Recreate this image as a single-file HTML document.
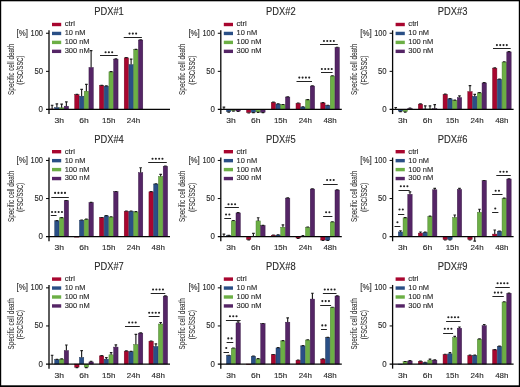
<!DOCTYPE html>
<html><head><meta charset="utf-8"><style>
html,body{margin:0;padding:0;background:#fff;}
body{width:520px;height:387px;overflow:hidden;}
svg{display:block;font-family:"Liberation Sans",sans-serif;}
svg{will-change:transform;filter:blur(0.3px);}
</style></head><body>
<svg width="520" height="387" viewBox="0 0 520 387">
<rect x="0" y="0" width="520" height="387" fill="#fff"/>
<g>
<text x="94.2" y="15" font-size="10.1" text-anchor="start" fill="#2a2a2a" textLength="29.6" lengthAdjust="spacingAndGlyphs" stroke="#2a2a2a" stroke-width="0.12">PDX#1</text>
<text transform="translate(13.55 69.25) rotate(-90)" font-size="8.4" text-anchor="middle" fill="#2a2a2a" stroke="#2a2a2a" stroke-width="0.06" textLength="51.3" lengthAdjust="spacingAndGlyphs">Specific cell death</text>
<text transform="translate(23.2 70.05) rotate(-90)" font-size="8.3" text-anchor="middle" fill="#2a2a2a" stroke="#2a2a2a" stroke-width="0.08" textLength="29.0" lengthAdjust="spacingAndGlyphs">(FSC/SSC)</text>
<text x="43" y="35.75" font-size="8.3" text-anchor="end" fill="#2a2a2a" textLength="12.4" lengthAdjust="spacingAndGlyphs" stroke="#2a2a2a" stroke-width="0.12">100</text>
<text x="43" y="73.85" font-size="8.3" text-anchor="end" fill="#2a2a2a" textLength="8.6" lengthAdjust="spacingAndGlyphs" stroke="#2a2a2a" stroke-width="0.12">50</text>
<text x="43" y="112.05" font-size="8.3" text-anchor="end" fill="#2a2a2a" textLength="4.4" lengthAdjust="spacingAndGlyphs" stroke="#2a2a2a" stroke-width="0.12">0</text>
<text x="16.6" y="35.75" font-size="8.3" text-anchor="start" fill="#2a2a2a" textLength="11.4" lengthAdjust="spacingAndGlyphs" stroke="#2a2a2a" stroke-width="0.12">[%]</text>
<rect x="52" y="22.8" width="9.2" height="3.4" fill="#a8062f"/>
<text x="64.7" y="26.4" font-size="7.1" text-anchor="start" fill="#2a2a2a" textLength="10.3" lengthAdjust="spacingAndGlyphs" stroke="#2a2a2a" stroke-width="0.12">ctrl</text>
<rect x="52" y="31.75" width="9.2" height="3.4" fill="#2a4f86"/>
<text x="64.7" y="35.35" font-size="7.1" text-anchor="start" fill="#2a2a2a" textLength="20.7" lengthAdjust="spacingAndGlyphs" stroke="#2a2a2a" stroke-width="0.12">10 nM</text>
<rect x="52" y="40.7" width="9.2" height="3.4" fill="#6caf45"/>
<text x="64.7" y="44.3" font-size="7.1" text-anchor="start" fill="#2a2a2a" textLength="24.9" lengthAdjust="spacingAndGlyphs" stroke="#2a2a2a" stroke-width="0.12">100 nM</text>
<rect x="52" y="49.65" width="9.2" height="3.4" fill="#552566"/>
<text x="64.7" y="53.25" font-size="7.1" text-anchor="start" fill="#2a2a2a" textLength="25.1" lengthAdjust="spacingAndGlyphs" stroke="#2a2a2a" stroke-width="0.12">300 nM</text>
<rect x="49.95" y="108.95" width="4.35" height="0.5" fill="#a8062f" stroke="#6a0a22" stroke-width="0.45"/>
<rect x="54.7" y="107.6" width="4.35" height="1.85" fill="#2a4f86" stroke="#1c3358" stroke-width="0.45"/>
<rect x="59.45" y="107.8" width="4.35" height="1.65" fill="#6caf45" stroke="#4a7a30" stroke-width="0.45"/>
<rect x="64.2" y="106.2" width="4.35" height="3.25" fill="#552566" stroke="#341640" stroke-width="0.45"/>
<rect x="74.7" y="94.6" width="4.35" height="14.85" fill="#a8062f" stroke="#6a0a22" stroke-width="0.45"/>
<rect x="79.45" y="96.2" width="4.35" height="13.25" fill="#2a4f86" stroke="#1c3358" stroke-width="0.45"/>
<rect x="84.2" y="91.2" width="4.35" height="18.25" fill="#6caf45" stroke="#4a7a30" stroke-width="0.45"/>
<rect x="88.95" y="67.5" width="4.35" height="41.95" fill="#552566" stroke="#341640" stroke-width="0.45"/>
<rect x="99.45" y="85.6" width="4.35" height="23.85" fill="#a8062f" stroke="#6a0a22" stroke-width="0.45"/>
<rect x="104.2" y="86.1" width="4.35" height="23.35" fill="#2a4f86" stroke="#1c3358" stroke-width="0.45"/>
<rect x="108.95" y="71.8" width="4.35" height="37.65" fill="#6caf45" stroke="#4a7a30" stroke-width="0.45"/>
<rect x="113.7" y="59.1" width="4.35" height="50.35" fill="#552566" stroke="#341640" stroke-width="0.45"/>
<rect x="124.2" y="57.8" width="4.35" height="51.65" fill="#a8062f" stroke="#6a0a22" stroke-width="0.45"/>
<rect x="128.95" y="64.6" width="4.35" height="44.85" fill="#2a4f86" stroke="#1c3358" stroke-width="0.45"/>
<rect x="133.7" y="49.6" width="4.35" height="59.85" fill="#6caf45" stroke="#4a7a30" stroke-width="0.45"/>
<rect x="138.45" y="40" width="4.35" height="69.45" fill="#552566" stroke="#341640" stroke-width="0.45"/>
<path d="M49 30.35V114.05" stroke="#050505" stroke-width="1.3" fill="none"/>
<path d="M46 109.45H170" stroke="#050505" stroke-width="1.2" fill="none"/>
<path d="M46 33.25H49" stroke="#050505" stroke-width="1" fill="none"/>
<path d="M46 71.35H49" stroke="#050505" stroke-width="1" fill="none"/>
<path d="M52.12 108.95V105.25 M50.83 105.25H53.42" stroke="#1e1e1e" stroke-width="1.15" fill="none"/>
<path d="M56.88 107.6V103.8 M55.58 103.8H58.17" stroke="#1e1e1e" stroke-width="1.15" fill="none"/>
<path d="M61.62 107.8V104.1 M60.33 104.1H62.92" stroke="#1e1e1e" stroke-width="1.15" fill="none"/>
<path d="M66.38 106.2V101.8 M65.08 101.8H67.67" stroke="#1e1e1e" stroke-width="1.15" fill="none"/>
<path d="M76.88 94.6V94.35 M75.58 94.35H78.17" stroke="#1e1e1e" stroke-width="1.15" fill="none"/>
<path d="M81.62 96.2V89.3 M80.33 89.3H82.92" stroke="#1e1e1e" stroke-width="1.15" fill="none"/>
<path d="M86.38 91.2V84.3 M85.08 84.3H87.67" stroke="#1e1e1e" stroke-width="1.15" fill="none"/>
<path d="M91.12 67.5V50.6 M89.83 50.6H92.42" stroke="#1e1e1e" stroke-width="1.15" fill="none"/>
<path d="M101.62 85.6V85.35 M100.33 85.35H102.92" stroke="#1e1e1e" stroke-width="1.15" fill="none"/>
<path d="M106.38 86.1V85.85 M105.08 85.85H107.67" stroke="#1e1e1e" stroke-width="1.15" fill="none"/>
<path d="M111.12 71.8V71.55 M109.83 71.55H112.42" stroke="#1e1e1e" stroke-width="1.15" fill="none"/>
<path d="M115.88 59.1V58.85 M114.58 58.85H117.17" stroke="#1e1e1e" stroke-width="1.15" fill="none"/>
<path d="M126.38 57.8V57.55 M125.08 57.55H127.67" stroke="#1e1e1e" stroke-width="1.15" fill="none"/>
<path d="M131.12 64.6V59.1 M129.82 59.1H132.43" stroke="#1e1e1e" stroke-width="1.15" fill="none"/>
<path d="M135.88 49.6V49.35 M134.57 49.35H137.18" stroke="#1e1e1e" stroke-width="1.15" fill="none"/>
<path d="M140.62 40V39.75 M139.32 39.75H141.93" stroke="#1e1e1e" stroke-width="1.15" fill="none"/>
<text x="59.25" y="123.15" font-size="8" text-anchor="middle" fill="#2a2a2a" textLength="9.5" lengthAdjust="spacingAndGlyphs" stroke="#2a2a2a" stroke-width="0.14">3h</text>
<text x="84" y="123.15" font-size="8" text-anchor="middle" fill="#2a2a2a" textLength="9.5" lengthAdjust="spacingAndGlyphs" stroke="#2a2a2a" stroke-width="0.14">6h</text>
<text x="108.75" y="123.15" font-size="8" text-anchor="middle" fill="#2a2a2a" textLength="13.3" lengthAdjust="spacingAndGlyphs" stroke="#2a2a2a" stroke-width="0.14">15h</text>
<text x="133.5" y="123.15" font-size="8" text-anchor="middle" fill="#2a2a2a" textLength="13.3" lengthAdjust="spacingAndGlyphs" stroke="#2a2a2a" stroke-width="0.14">24h</text>
<path d="M100 55.5H117.75" stroke="#222" stroke-width="1" fill="none"/>
<circle cx="105.58" cy="52.2" r="1.05" fill="#222"/>
<circle cx="108.88" cy="52.2" r="1.05" fill="#222"/>
<circle cx="112.17" cy="52.2" r="1.05" fill="#222"/>
<path d="M123.75 37.5H141.9" stroke="#222" stroke-width="1" fill="none"/>
<circle cx="129.52" cy="33.6" r="1.05" fill="#222"/>
<circle cx="132.82" cy="33.6" r="1.05" fill="#222"/>
<circle cx="136.12" cy="33.6" r="1.05" fill="#222"/>
</g>
<g>
<text x="266" y="15" font-size="10.1" text-anchor="start" fill="#2a2a2a" textLength="29.6" lengthAdjust="spacingAndGlyphs" stroke="#2a2a2a" stroke-width="0.12">PDX#2</text>
<text transform="translate(185.35 69.25) rotate(-90)" font-size="8.4" text-anchor="middle" fill="#2a2a2a" stroke="#2a2a2a" stroke-width="0.06" textLength="51.3" lengthAdjust="spacingAndGlyphs">Specific cell death</text>
<text transform="translate(195 70.05) rotate(-90)" font-size="8.3" text-anchor="middle" fill="#2a2a2a" stroke="#2a2a2a" stroke-width="0.08" textLength="29.0" lengthAdjust="spacingAndGlyphs">(FSC/SSC)</text>
<text x="214.8" y="35.75" font-size="8.3" text-anchor="end" fill="#2a2a2a" textLength="12.4" lengthAdjust="spacingAndGlyphs" stroke="#2a2a2a" stroke-width="0.12">100</text>
<text x="214.8" y="73.85" font-size="8.3" text-anchor="end" fill="#2a2a2a" textLength="8.6" lengthAdjust="spacingAndGlyphs" stroke="#2a2a2a" stroke-width="0.12">50</text>
<text x="214.8" y="112.05" font-size="8.3" text-anchor="end" fill="#2a2a2a" textLength="4.4" lengthAdjust="spacingAndGlyphs" stroke="#2a2a2a" stroke-width="0.12">0</text>
<text x="188.4" y="35.75" font-size="8.3" text-anchor="start" fill="#2a2a2a" textLength="11.4" lengthAdjust="spacingAndGlyphs" stroke="#2a2a2a" stroke-width="0.12">[%]</text>
<rect x="223.8" y="22.8" width="9.2" height="3.4" fill="#a8062f"/>
<text x="236.5" y="26.4" font-size="7.1" text-anchor="start" fill="#2a2a2a" textLength="10.3" lengthAdjust="spacingAndGlyphs" stroke="#2a2a2a" stroke-width="0.12">ctrl</text>
<rect x="223.8" y="31.75" width="9.2" height="3.4" fill="#2a4f86"/>
<text x="236.5" y="35.35" font-size="7.1" text-anchor="start" fill="#2a2a2a" textLength="20.7" lengthAdjust="spacingAndGlyphs" stroke="#2a2a2a" stroke-width="0.12">10 nM</text>
<rect x="223.8" y="40.7" width="9.2" height="3.4" fill="#6caf45"/>
<text x="236.5" y="44.3" font-size="7.1" text-anchor="start" fill="#2a2a2a" textLength="24.9" lengthAdjust="spacingAndGlyphs" stroke="#2a2a2a" stroke-width="0.12">100 nM</text>
<rect x="223.8" y="49.65" width="9.2" height="3.4" fill="#552566"/>
<text x="236.5" y="53.25" font-size="7.1" text-anchor="start" fill="#2a2a2a" textLength="25.1" lengthAdjust="spacingAndGlyphs" stroke="#2a2a2a" stroke-width="0.12">300 nM</text>
<rect x="226.5" y="109.45" width="4.35" height="2.2" fill="#2a4f86" stroke="#1c3358" stroke-width="0.45"/>
<rect x="231.25" y="109.45" width="4.35" height="1.3" fill="#6caf45" stroke="#4a7a30" stroke-width="0.45"/>
<rect x="236" y="109.45" width="4.35" height="1.6" fill="#552566" stroke="#341640" stroke-width="0.45"/>
<rect x="246.5" y="109.45" width="4.35" height="3.1" fill="#a8062f" stroke="#6a0a22" stroke-width="0.45"/>
<rect x="251.25" y="109.45" width="4.35" height="2.8" fill="#2a4f86" stroke="#1c3358" stroke-width="0.45"/>
<rect x="256" y="109.45" width="4.35" height="2.5" fill="#6caf45" stroke="#4a7a30" stroke-width="0.45"/>
<rect x="260.75" y="109.45" width="4.35" height="2.8" fill="#552566" stroke="#341640" stroke-width="0.45"/>
<rect x="271.25" y="102.4" width="4.35" height="7.05" fill="#a8062f" stroke="#6a0a22" stroke-width="0.45"/>
<rect x="276" y="104" width="4.35" height="5.45" fill="#2a4f86" stroke="#1c3358" stroke-width="0.45"/>
<rect x="280.75" y="104.7" width="4.35" height="4.75" fill="#6caf45" stroke="#4a7a30" stroke-width="0.45"/>
<rect x="285.5" y="97" width="4.35" height="12.45" fill="#552566" stroke="#341640" stroke-width="0.45"/>
<rect x="296" y="103.2" width="4.35" height="6.25" fill="#a8062f" stroke="#6a0a22" stroke-width="0.45"/>
<rect x="300.75" y="107" width="4.35" height="2.45" fill="#2a4f86" stroke="#1c3358" stroke-width="0.45"/>
<rect x="305.5" y="99.8" width="4.35" height="9.65" fill="#6caf45" stroke="#4a7a30" stroke-width="0.45"/>
<rect x="310.25" y="86" width="4.35" height="23.45" fill="#552566" stroke="#341640" stroke-width="0.45"/>
<rect x="320.75" y="102.9" width="4.35" height="6.55" fill="#a8062f" stroke="#6a0a22" stroke-width="0.45"/>
<rect x="325.5" y="105.5" width="4.35" height="3.95" fill="#2a4f86" stroke="#1c3358" stroke-width="0.45"/>
<rect x="330.25" y="76" width="4.35" height="33.45" fill="#6caf45" stroke="#4a7a30" stroke-width="0.45"/>
<rect x="335" y="47.5" width="4.35" height="61.95" fill="#552566" stroke="#341640" stroke-width="0.45"/>
<path d="M220.8 30.35V114.05" stroke="#050505" stroke-width="1.3" fill="none"/>
<path d="M217.8 109.45H341.8" stroke="#050505" stroke-width="1.2" fill="none"/>
<path d="M217.8 33.25H220.8" stroke="#050505" stroke-width="1" fill="none"/>
<path d="M217.8 71.35H220.8" stroke="#050505" stroke-width="1" fill="none"/>
<path d="M223.93 109.45V107.05 M222.62 107.05H225.23" stroke="#1e1e1e" stroke-width="1.15" fill="none"/>
<path d="M228.68 111.65V112.05 M227.38 112.05H229.98" stroke="#1e1e1e" stroke-width="1.15" fill="none"/>
<path d="M233.43 110.75V111.05 M232.12 111.05H234.73" stroke="#1e1e1e" stroke-width="1.15" fill="none"/>
<path d="M238.18 111.05V111.45 M236.88 111.45H239.48" stroke="#1e1e1e" stroke-width="1.15" fill="none"/>
<path d="M248.68 112.55V112.95 M247.38 112.95H249.98" stroke="#1e1e1e" stroke-width="1.15" fill="none"/>
<path d="M253.43 112.25V112.65 M252.12 112.65H254.73" stroke="#1e1e1e" stroke-width="1.15" fill="none"/>
<path d="M258.18 111.95V112.35 M256.88 112.35H259.48" stroke="#1e1e1e" stroke-width="1.15" fill="none"/>
<path d="M262.93 112.25V112.65 M261.62 112.65H264.23" stroke="#1e1e1e" stroke-width="1.15" fill="none"/>
<path d="M273.43 102.4V102.15 M272.12 102.15H274.73" stroke="#1e1e1e" stroke-width="1.15" fill="none"/>
<path d="M278.18 104V103.75 M276.88 103.75H279.48" stroke="#1e1e1e" stroke-width="1.15" fill="none"/>
<path d="M282.93 104.7V104.45 M281.62 104.45H284.23" stroke="#1e1e1e" stroke-width="1.15" fill="none"/>
<path d="M287.68 97V96.75 M286.38 96.75H288.98" stroke="#1e1e1e" stroke-width="1.15" fill="none"/>
<path d="M298.18 103.2V102.95 M296.88 102.95H299.48" stroke="#1e1e1e" stroke-width="1.15" fill="none"/>
<path d="M302.93 107V106.75 M301.62 106.75H304.23" stroke="#1e1e1e" stroke-width="1.15" fill="none"/>
<path d="M307.68 99.8V99.55 M306.38 99.55H308.98" stroke="#1e1e1e" stroke-width="1.15" fill="none"/>
<path d="M312.43 86V85.75 M311.12 85.75H313.73" stroke="#1e1e1e" stroke-width="1.15" fill="none"/>
<path d="M322.93 102.9V102.65 M321.62 102.65H324.23" stroke="#1e1e1e" stroke-width="1.15" fill="none"/>
<path d="M327.68 105.5V105.25 M326.38 105.25H328.98" stroke="#1e1e1e" stroke-width="1.15" fill="none"/>
<path d="M332.43 76V75.75 M331.12 75.75H333.73" stroke="#1e1e1e" stroke-width="1.15" fill="none"/>
<path d="M337.18 47.5V47.25 M335.88 47.25H338.48" stroke="#1e1e1e" stroke-width="1.15" fill="none"/>
<text x="231.05" y="123.15" font-size="8" text-anchor="middle" fill="#2a2a2a" textLength="9.5" lengthAdjust="spacingAndGlyphs" stroke="#2a2a2a" stroke-width="0.14">3h</text>
<text x="255.8" y="123.15" font-size="8" text-anchor="middle" fill="#2a2a2a" textLength="9.5" lengthAdjust="spacingAndGlyphs" stroke="#2a2a2a" stroke-width="0.14">6h</text>
<text x="280.55" y="123.15" font-size="8" text-anchor="middle" fill="#2a2a2a" textLength="13.3" lengthAdjust="spacingAndGlyphs" stroke="#2a2a2a" stroke-width="0.14">15h</text>
<text x="305.3" y="123.15" font-size="8" text-anchor="middle" fill="#2a2a2a" textLength="13.3" lengthAdjust="spacingAndGlyphs" stroke="#2a2a2a" stroke-width="0.14">24h</text>
<text x="330.05" y="123.15" font-size="8" text-anchor="middle" fill="#2a2a2a" textLength="13.3" lengthAdjust="spacingAndGlyphs" stroke="#2a2a2a" stroke-width="0.14">48h</text>
<path d="M296.5 81.5H312" stroke="#222" stroke-width="1" fill="none"/>
<circle cx="299.3" cy="77.6" r="1.05" fill="#222"/>
<circle cx="302.6" cy="77.6" r="1.05" fill="#222"/>
<circle cx="305.9" cy="77.6" r="1.05" fill="#222"/>
<circle cx="309.2" cy="77.6" r="1.05" fill="#222"/>
<path d="M321 72.5H332.6" stroke="#222" stroke-width="1" fill="none"/>
<circle cx="321.85" cy="69" r="1.05" fill="#222"/>
<circle cx="325.15" cy="69" r="1.05" fill="#222"/>
<circle cx="328.45" cy="69" r="1.05" fill="#222"/>
<circle cx="331.75" cy="69" r="1.05" fill="#222"/>
<path d="M320 44.5H337.8" stroke="#222" stroke-width="1" fill="none"/>
<circle cx="323.95" cy="41" r="1.05" fill="#222"/>
<circle cx="327.25" cy="41" r="1.05" fill="#222"/>
<circle cx="330.55" cy="41" r="1.05" fill="#222"/>
<circle cx="333.85" cy="41" r="1.05" fill="#222"/>
</g>
<g>
<text x="437.8" y="15" font-size="10.1" text-anchor="start" fill="#2a2a2a" textLength="29.6" lengthAdjust="spacingAndGlyphs" stroke="#2a2a2a" stroke-width="0.12">PDX#3</text>
<text transform="translate(357.15 69.25) rotate(-90)" font-size="8.4" text-anchor="middle" fill="#2a2a2a" stroke="#2a2a2a" stroke-width="0.06" textLength="51.3" lengthAdjust="spacingAndGlyphs">Specific cell death</text>
<text transform="translate(366.8 70.05) rotate(-90)" font-size="8.3" text-anchor="middle" fill="#2a2a2a" stroke="#2a2a2a" stroke-width="0.08" textLength="29.0" lengthAdjust="spacingAndGlyphs">(FSC/SSC)</text>
<text x="386.6" y="35.75" font-size="8.3" text-anchor="end" fill="#2a2a2a" textLength="12.4" lengthAdjust="spacingAndGlyphs" stroke="#2a2a2a" stroke-width="0.12">100</text>
<text x="386.6" y="73.85" font-size="8.3" text-anchor="end" fill="#2a2a2a" textLength="8.6" lengthAdjust="spacingAndGlyphs" stroke="#2a2a2a" stroke-width="0.12">50</text>
<text x="386.6" y="112.05" font-size="8.3" text-anchor="end" fill="#2a2a2a" textLength="4.4" lengthAdjust="spacingAndGlyphs" stroke="#2a2a2a" stroke-width="0.12">0</text>
<text x="360.2" y="35.75" font-size="8.3" text-anchor="start" fill="#2a2a2a" textLength="11.4" lengthAdjust="spacingAndGlyphs" stroke="#2a2a2a" stroke-width="0.12">[%]</text>
<rect x="395.6" y="22.8" width="9.2" height="3.4" fill="#a8062f"/>
<text x="408.3" y="26.4" font-size="7.1" text-anchor="start" fill="#2a2a2a" textLength="10.3" lengthAdjust="spacingAndGlyphs" stroke="#2a2a2a" stroke-width="0.12">ctrl</text>
<rect x="395.6" y="31.75" width="9.2" height="3.4" fill="#2a4f86"/>
<text x="408.3" y="35.35" font-size="7.1" text-anchor="start" fill="#2a2a2a" textLength="20.7" lengthAdjust="spacingAndGlyphs" stroke="#2a2a2a" stroke-width="0.12">10 nM</text>
<rect x="395.6" y="40.7" width="9.2" height="3.4" fill="#6caf45"/>
<text x="408.3" y="44.3" font-size="7.1" text-anchor="start" fill="#2a2a2a" textLength="24.9" lengthAdjust="spacingAndGlyphs" stroke="#2a2a2a" stroke-width="0.12">100 nM</text>
<rect x="395.6" y="49.65" width="9.2" height="3.4" fill="#552566"/>
<text x="408.3" y="53.25" font-size="7.1" text-anchor="start" fill="#2a2a2a" textLength="25.1" lengthAdjust="spacingAndGlyphs" stroke="#2a2a2a" stroke-width="0.12">300 nM</text>
<rect x="398.3" y="109.45" width="4.35" height="1.7" fill="#2a4f86" stroke="#1c3358" stroke-width="0.45"/>
<rect x="403.05" y="109.45" width="4.35" height="2.2" fill="#6caf45" stroke="#4a7a30" stroke-width="0.45"/>
<rect x="407.8" y="108.45" width="4.35" height="1" fill="#552566" stroke="#341640" stroke-width="0.45"/>
<rect x="418.3" y="104.1" width="4.35" height="5.35" fill="#a8062f" stroke="#6a0a22" stroke-width="0.45"/>
<rect x="423.05" y="108.95" width="4.35" height="0.5" fill="#2a4f86" stroke="#1c3358" stroke-width="0.45"/>
<rect x="427.8" y="108.95" width="4.35" height="0.5" fill="#6caf45" stroke="#4a7a30" stroke-width="0.45"/>
<rect x="432.55" y="108.65" width="4.35" height="0.8" fill="#552566" stroke="#341640" stroke-width="0.45"/>
<rect x="443.05" y="94.3" width="4.35" height="15.15" fill="#a8062f" stroke="#6a0a22" stroke-width="0.45"/>
<rect x="447.8" y="98.8" width="4.35" height="10.65" fill="#2a4f86" stroke="#1c3358" stroke-width="0.45"/>
<rect x="452.55" y="100.3" width="4.35" height="9.15" fill="#6caf45" stroke="#4a7a30" stroke-width="0.45"/>
<rect x="457.3" y="97.6" width="4.35" height="11.85" fill="#552566" stroke="#341640" stroke-width="0.45"/>
<rect x="467.8" y="91.6" width="4.35" height="17.85" fill="#a8062f" stroke="#6a0a22" stroke-width="0.45"/>
<rect x="472.55" y="96.4" width="4.35" height="13.05" fill="#2a4f86" stroke="#1c3358" stroke-width="0.45"/>
<rect x="477.3" y="92.8" width="4.35" height="16.65" fill="#6caf45" stroke="#4a7a30" stroke-width="0.45"/>
<rect x="482.05" y="82.9" width="4.35" height="26.55" fill="#552566" stroke="#341640" stroke-width="0.45"/>
<rect x="492.55" y="68.1" width="4.35" height="41.35" fill="#a8062f" stroke="#6a0a22" stroke-width="0.45"/>
<rect x="497.3" y="79.3" width="4.35" height="30.15" fill="#2a4f86" stroke="#1c3358" stroke-width="0.45"/>
<rect x="502.05" y="62" width="4.35" height="47.45" fill="#6caf45" stroke="#4a7a30" stroke-width="0.45"/>
<rect x="506.8" y="51.9" width="4.35" height="57.55" fill="#552566" stroke="#341640" stroke-width="0.45"/>
<path d="M392.6 30.35V114.05" stroke="#050505" stroke-width="1.3" fill="none"/>
<path d="M389.6 109.45H513.6" stroke="#050505" stroke-width="1.2" fill="none"/>
<path d="M389.6 33.25H392.6" stroke="#050505" stroke-width="1" fill="none"/>
<path d="M389.6 71.35H392.6" stroke="#050505" stroke-width="1" fill="none"/>
<path d="M395.73 109.45V107.45 M394.43 107.45H397.03" stroke="#1e1e1e" stroke-width="1.15" fill="none"/>
<path d="M400.48 111.15V111.55 M399.18 111.55H401.78" stroke="#1e1e1e" stroke-width="1.15" fill="none"/>
<path d="M405.23 111.65V112.05 M403.93 112.05H406.53" stroke="#1e1e1e" stroke-width="1.15" fill="none"/>
<path d="M409.98 108.45V107.95 M408.68 107.95H411.28" stroke="#1e1e1e" stroke-width="1.15" fill="none"/>
<path d="M420.48 104.1V103.85 M419.18 103.85H421.78" stroke="#1e1e1e" stroke-width="1.15" fill="none"/>
<path d="M425.23 108.95V105.85 M423.93 105.85H426.53" stroke="#1e1e1e" stroke-width="1.15" fill="none"/>
<path d="M429.98 108.95V105.85 M428.68 105.85H431.28" stroke="#1e1e1e" stroke-width="1.15" fill="none"/>
<path d="M434.73 108.65V104.65 M433.43 104.65H436.03" stroke="#1e1e1e" stroke-width="1.15" fill="none"/>
<path d="M445.23 94.3V94.05 M443.93 94.05H446.53" stroke="#1e1e1e" stroke-width="1.15" fill="none"/>
<path d="M449.98 98.8V98.55 M448.68 98.55H451.28" stroke="#1e1e1e" stroke-width="1.15" fill="none"/>
<path d="M454.73 100.3V100.05 M453.43 100.05H456.03" stroke="#1e1e1e" stroke-width="1.15" fill="none"/>
<path d="M459.48 97.6V95.8 M458.18 95.8H460.78" stroke="#1e1e1e" stroke-width="1.15" fill="none"/>
<path d="M469.98 91.6V85.6 M468.68 85.6H471.28" stroke="#1e1e1e" stroke-width="1.15" fill="none"/>
<path d="M474.73 96.4V94.3 M473.43 94.3H476.03" stroke="#1e1e1e" stroke-width="1.15" fill="none"/>
<path d="M479.48 92.8V92.55 M478.18 92.55H480.78" stroke="#1e1e1e" stroke-width="1.15" fill="none"/>
<path d="M484.23 82.9V82.65 M482.93 82.65H485.53" stroke="#1e1e1e" stroke-width="1.15" fill="none"/>
<path d="M494.73 68.1V67.85 M493.43 67.85H496.03" stroke="#1e1e1e" stroke-width="1.15" fill="none"/>
<path d="M499.48 79.3V79.05 M498.18 79.05H500.78" stroke="#1e1e1e" stroke-width="1.15" fill="none"/>
<path d="M504.23 62V61.75 M502.93 61.75H505.53" stroke="#1e1e1e" stroke-width="1.15" fill="none"/>
<path d="M508.98 51.9V51.65 M507.68 51.65H510.28" stroke="#1e1e1e" stroke-width="1.15" fill="none"/>
<text x="402.85" y="123.15" font-size="8" text-anchor="middle" fill="#2a2a2a" textLength="9.5" lengthAdjust="spacingAndGlyphs" stroke="#2a2a2a" stroke-width="0.14">3h</text>
<text x="427.6" y="123.15" font-size="8" text-anchor="middle" fill="#2a2a2a" textLength="9.5" lengthAdjust="spacingAndGlyphs" stroke="#2a2a2a" stroke-width="0.14">6h</text>
<text x="452.35" y="123.15" font-size="8" text-anchor="middle" fill="#2a2a2a" textLength="13.3" lengthAdjust="spacingAndGlyphs" stroke="#2a2a2a" stroke-width="0.14">15h</text>
<text x="477.1" y="123.15" font-size="8" text-anchor="middle" fill="#2a2a2a" textLength="13.3" lengthAdjust="spacingAndGlyphs" stroke="#2a2a2a" stroke-width="0.14">24h</text>
<text x="501.85" y="123.15" font-size="8" text-anchor="middle" fill="#2a2a2a" textLength="13.3" lengthAdjust="spacingAndGlyphs" stroke="#2a2a2a" stroke-width="0.14">48h</text>
<path d="M493 48.5H510.7" stroke="#222" stroke-width="1" fill="none"/>
<circle cx="496.9" cy="45.1" r="1.05" fill="#222"/>
<circle cx="500.2" cy="45.1" r="1.05" fill="#222"/>
<circle cx="503.5" cy="45.1" r="1.05" fill="#222"/>
<circle cx="506.8" cy="45.1" r="1.05" fill="#222"/>
</g>
<g>
<text x="94.2" y="142.95" font-size="10.1" text-anchor="start" fill="#2a2a2a" textLength="29.6" lengthAdjust="spacingAndGlyphs" stroke="#2a2a2a" stroke-width="0.12">PDX#4</text>
<text transform="translate(13.55 196.45) rotate(-90)" font-size="8.4" text-anchor="middle" fill="#2a2a2a" stroke="#2a2a2a" stroke-width="0.06" textLength="51.3" lengthAdjust="spacingAndGlyphs">Specific cell death</text>
<text transform="translate(23.2 197.25) rotate(-90)" font-size="8.3" text-anchor="middle" fill="#2a2a2a" stroke="#2a2a2a" stroke-width="0.08" textLength="29.0" lengthAdjust="spacingAndGlyphs">(FSC/SSC)</text>
<text x="43" y="162.95" font-size="8.3" text-anchor="end" fill="#2a2a2a" textLength="12.4" lengthAdjust="spacingAndGlyphs" stroke="#2a2a2a" stroke-width="0.12">100</text>
<text x="43" y="201.05" font-size="8.3" text-anchor="end" fill="#2a2a2a" textLength="8.6" lengthAdjust="spacingAndGlyphs" stroke="#2a2a2a" stroke-width="0.12">50</text>
<text x="43" y="239.25" font-size="8.3" text-anchor="end" fill="#2a2a2a" textLength="4.4" lengthAdjust="spacingAndGlyphs" stroke="#2a2a2a" stroke-width="0.12">0</text>
<text x="16.6" y="162.95" font-size="8.3" text-anchor="start" fill="#2a2a2a" textLength="11.4" lengthAdjust="spacingAndGlyphs" stroke="#2a2a2a" stroke-width="0.12">[%]</text>
<rect x="52" y="150" width="9.2" height="3.4" fill="#a8062f"/>
<text x="64.7" y="153.6" font-size="7.1" text-anchor="start" fill="#2a2a2a" textLength="10.3" lengthAdjust="spacingAndGlyphs" stroke="#2a2a2a" stroke-width="0.12">ctrl</text>
<rect x="52" y="158.95" width="9.2" height="3.4" fill="#2a4f86"/>
<text x="64.7" y="162.55" font-size="7.1" text-anchor="start" fill="#2a2a2a" textLength="20.7" lengthAdjust="spacingAndGlyphs" stroke="#2a2a2a" stroke-width="0.12">10 nM</text>
<rect x="52" y="167.9" width="9.2" height="3.4" fill="#6caf45"/>
<text x="64.7" y="171.5" font-size="7.1" text-anchor="start" fill="#2a2a2a" textLength="24.9" lengthAdjust="spacingAndGlyphs" stroke="#2a2a2a" stroke-width="0.12">100 nM</text>
<rect x="52" y="176.85" width="9.2" height="3.4" fill="#552566"/>
<text x="64.7" y="180.45" font-size="7.1" text-anchor="start" fill="#2a2a2a" textLength="25.1" lengthAdjust="spacingAndGlyphs" stroke="#2a2a2a" stroke-width="0.12">300 nM</text>
<rect x="54.7" y="220.8" width="4.35" height="15.85" fill="#2a4f86" stroke="#1c3358" stroke-width="0.45"/>
<rect x="59.45" y="217.8" width="4.35" height="18.85" fill="#6caf45" stroke="#4a7a30" stroke-width="0.45"/>
<rect x="64.2" y="200.7" width="4.35" height="35.95" fill="#552566" stroke="#341640" stroke-width="0.45"/>
<rect x="74.7" y="236.65" width="4.35" height="0.5" fill="#a8062f" stroke="#6a0a22" stroke-width="0.45"/>
<rect x="79.45" y="220.2" width="4.35" height="16.45" fill="#2a4f86" stroke="#1c3358" stroke-width="0.45"/>
<rect x="84.2" y="219.4" width="4.35" height="17.25" fill="#6caf45" stroke="#4a7a30" stroke-width="0.45"/>
<rect x="88.95" y="202.6" width="4.35" height="34.05" fill="#552566" stroke="#341640" stroke-width="0.45"/>
<rect x="99.45" y="217.7" width="4.35" height="18.95" fill="#a8062f" stroke="#6a0a22" stroke-width="0.45"/>
<rect x="104.2" y="215.8" width="4.35" height="20.85" fill="#2a4f86" stroke="#1c3358" stroke-width="0.45"/>
<rect x="108.95" y="217" width="4.35" height="19.65" fill="#6caf45" stroke="#4a7a30" stroke-width="0.45"/>
<rect x="113.7" y="191.7" width="4.35" height="44.95" fill="#552566" stroke="#341640" stroke-width="0.45"/>
<rect x="124.2" y="211.2" width="4.35" height="25.45" fill="#a8062f" stroke="#6a0a22" stroke-width="0.45"/>
<rect x="128.95" y="211.2" width="4.35" height="25.45" fill="#2a4f86" stroke="#1c3358" stroke-width="0.45"/>
<rect x="133.7" y="211.9" width="4.35" height="24.75" fill="#6caf45" stroke="#4a7a30" stroke-width="0.45"/>
<rect x="138.45" y="172.7" width="4.35" height="63.95" fill="#552566" stroke="#341640" stroke-width="0.45"/>
<rect x="148.95" y="191.8" width="4.35" height="44.85" fill="#a8062f" stroke="#6a0a22" stroke-width="0.45"/>
<rect x="153.7" y="184" width="4.35" height="52.65" fill="#2a4f86" stroke="#1c3358" stroke-width="0.45"/>
<rect x="158.45" y="176.5" width="4.35" height="60.15" fill="#6caf45" stroke="#4a7a30" stroke-width="0.45"/>
<rect x="163.2" y="166.2" width="4.35" height="70.45" fill="#552566" stroke="#341640" stroke-width="0.45"/>
<path d="M49 157.55V241.25" stroke="#050505" stroke-width="1.3" fill="none"/>
<path d="M46 236.65H170" stroke="#050505" stroke-width="1.2" fill="none"/>
<path d="M46 160.45H49" stroke="#050505" stroke-width="1" fill="none"/>
<path d="M46 198.55H49" stroke="#050505" stroke-width="1" fill="none"/>
<path d="M56.88 220.8V220.55 M55.58 220.55H58.17" stroke="#1e1e1e" stroke-width="1.15" fill="none"/>
<path d="M61.62 217.8V217.55 M60.33 217.55H62.92" stroke="#1e1e1e" stroke-width="1.15" fill="none"/>
<path d="M66.38 200.7V200.45 M65.08 200.45H67.67" stroke="#1e1e1e" stroke-width="1.15" fill="none"/>
<path d="M81.62 220.2V219.95 M80.33 219.95H82.92" stroke="#1e1e1e" stroke-width="1.15" fill="none"/>
<path d="M86.38 219.4V219.15 M85.08 219.15H87.67" stroke="#1e1e1e" stroke-width="1.15" fill="none"/>
<path d="M91.12 202.6V202.35 M89.83 202.35H92.42" stroke="#1e1e1e" stroke-width="1.15" fill="none"/>
<path d="M101.62 217.7V217.45 M100.33 217.45H102.92" stroke="#1e1e1e" stroke-width="1.15" fill="none"/>
<path d="M106.38 215.8V215.55 M105.08 215.55H107.67" stroke="#1e1e1e" stroke-width="1.15" fill="none"/>
<path d="M111.12 217V216.75 M109.83 216.75H112.42" stroke="#1e1e1e" stroke-width="1.15" fill="none"/>
<path d="M115.88 191.7V191.45 M114.58 191.45H117.17" stroke="#1e1e1e" stroke-width="1.15" fill="none"/>
<path d="M126.38 211.2V210.95 M125.08 210.95H127.67" stroke="#1e1e1e" stroke-width="1.15" fill="none"/>
<path d="M131.12 211.2V210.95 M129.82 210.95H132.43" stroke="#1e1e1e" stroke-width="1.15" fill="none"/>
<path d="M135.88 211.9V211.65 M134.57 211.65H137.18" stroke="#1e1e1e" stroke-width="1.15" fill="none"/>
<path d="M140.62 172.7V167.7 M139.32 167.7H141.93" stroke="#1e1e1e" stroke-width="1.15" fill="none"/>
<path d="M151.12 191.8V191.55 M149.82 191.55H152.43" stroke="#1e1e1e" stroke-width="1.15" fill="none"/>
<path d="M155.88 184V183.75 M154.57 183.75H157.18" stroke="#1e1e1e" stroke-width="1.15" fill="none"/>
<path d="M160.62 176.5V174.3 M159.32 174.3H161.93" stroke="#1e1e1e" stroke-width="1.15" fill="none"/>
<path d="M165.38 166.2V165.95 M164.07 165.95H166.68" stroke="#1e1e1e" stroke-width="1.15" fill="none"/>
<text x="59.25" y="250.35" font-size="8" text-anchor="middle" fill="#2a2a2a" textLength="9.5" lengthAdjust="spacingAndGlyphs" stroke="#2a2a2a" stroke-width="0.14">3h</text>
<text x="84" y="250.35" font-size="8" text-anchor="middle" fill="#2a2a2a" textLength="9.5" lengthAdjust="spacingAndGlyphs" stroke="#2a2a2a" stroke-width="0.14">6h</text>
<text x="108.75" y="250.35" font-size="8" text-anchor="middle" fill="#2a2a2a" textLength="13.3" lengthAdjust="spacingAndGlyphs" stroke="#2a2a2a" stroke-width="0.14">15h</text>
<text x="133.5" y="250.35" font-size="8" text-anchor="middle" fill="#2a2a2a" textLength="13.3" lengthAdjust="spacingAndGlyphs" stroke="#2a2a2a" stroke-width="0.14">24h</text>
<text x="158.25" y="250.35" font-size="8" text-anchor="middle" fill="#2a2a2a" textLength="13.3" lengthAdjust="spacingAndGlyphs" stroke="#2a2a2a" stroke-width="0.14">48h</text>
<path d="M51.3 197.5H68.8" stroke="#222" stroke-width="1" fill="none"/>
<circle cx="55.1" cy="192.9" r="1.05" fill="#222"/>
<circle cx="58.4" cy="192.9" r="1.05" fill="#222"/>
<circle cx="61.7" cy="192.9" r="1.05" fill="#222"/>
<circle cx="65" cy="192.9" r="1.05" fill="#222"/>
<path d="M50.8 215.5H56.6" stroke="#222" stroke-width="1" fill="none"/>
<circle cx="52.05" cy="212" r="1.05" fill="#222"/>
<circle cx="55.35" cy="212" r="1.05" fill="#222"/>
<circle cx="58.65" cy="212" r="1.05" fill="#222"/>
<circle cx="61.95" cy="212" r="1.05" fill="#222"/>
<path d="M148.2 162.5H166.8" stroke="#222" stroke-width="1" fill="none"/>
<circle cx="152.55" cy="158.7" r="1.05" fill="#222"/>
<circle cx="155.85" cy="158.7" r="1.05" fill="#222"/>
<circle cx="159.15" cy="158.7" r="1.05" fill="#222"/>
<circle cx="162.45" cy="158.7" r="1.05" fill="#222"/>
</g>
<g>
<text x="266" y="142.95" font-size="10.1" text-anchor="start" fill="#2a2a2a" textLength="29.6" lengthAdjust="spacingAndGlyphs" stroke="#2a2a2a" stroke-width="0.12">PDX#5</text>
<text transform="translate(185.35 196.45) rotate(-90)" font-size="8.4" text-anchor="middle" fill="#2a2a2a" stroke="#2a2a2a" stroke-width="0.06" textLength="51.3" lengthAdjust="spacingAndGlyphs">Specific cell death</text>
<text transform="translate(195 197.25) rotate(-90)" font-size="8.3" text-anchor="middle" fill="#2a2a2a" stroke="#2a2a2a" stroke-width="0.08" textLength="29.0" lengthAdjust="spacingAndGlyphs">(FSC/SSC)</text>
<text x="214.8" y="162.95" font-size="8.3" text-anchor="end" fill="#2a2a2a" textLength="12.4" lengthAdjust="spacingAndGlyphs" stroke="#2a2a2a" stroke-width="0.12">100</text>
<text x="214.8" y="201.05" font-size="8.3" text-anchor="end" fill="#2a2a2a" textLength="8.6" lengthAdjust="spacingAndGlyphs" stroke="#2a2a2a" stroke-width="0.12">50</text>
<text x="214.8" y="239.25" font-size="8.3" text-anchor="end" fill="#2a2a2a" textLength="4.4" lengthAdjust="spacingAndGlyphs" stroke="#2a2a2a" stroke-width="0.12">0</text>
<text x="188.4" y="162.95" font-size="8.3" text-anchor="start" fill="#2a2a2a" textLength="11.4" lengthAdjust="spacingAndGlyphs" stroke="#2a2a2a" stroke-width="0.12">[%]</text>
<rect x="223.8" y="150" width="9.2" height="3.4" fill="#a8062f"/>
<text x="236.5" y="153.6" font-size="7.1" text-anchor="start" fill="#2a2a2a" textLength="10.3" lengthAdjust="spacingAndGlyphs" stroke="#2a2a2a" stroke-width="0.12">ctrl</text>
<rect x="223.8" y="158.95" width="9.2" height="3.4" fill="#2a4f86"/>
<text x="236.5" y="162.55" font-size="7.1" text-anchor="start" fill="#2a2a2a" textLength="20.7" lengthAdjust="spacingAndGlyphs" stroke="#2a2a2a" stroke-width="0.12">10 nM</text>
<rect x="223.8" y="167.9" width="9.2" height="3.4" fill="#6caf45"/>
<text x="236.5" y="171.5" font-size="7.1" text-anchor="start" fill="#2a2a2a" textLength="24.9" lengthAdjust="spacingAndGlyphs" stroke="#2a2a2a" stroke-width="0.12">100 nM</text>
<rect x="223.8" y="176.85" width="9.2" height="3.4" fill="#552566"/>
<text x="236.5" y="180.45" font-size="7.1" text-anchor="start" fill="#2a2a2a" textLength="25.1" lengthAdjust="spacingAndGlyphs" stroke="#2a2a2a" stroke-width="0.12">300 nM</text>
<rect x="226.5" y="235.6" width="4.35" height="1.05" fill="#2a4f86" stroke="#1c3358" stroke-width="0.45"/>
<rect x="231.25" y="220.9" width="4.35" height="15.75" fill="#6caf45" stroke="#4a7a30" stroke-width="0.45"/>
<rect x="236" y="212.9" width="4.35" height="23.75" fill="#552566" stroke="#341640" stroke-width="0.45"/>
<rect x="246.5" y="236.65" width="4.35" height="2.8" fill="#a8062f" stroke="#6a0a22" stroke-width="0.45"/>
<rect x="256" y="220.9" width="4.35" height="15.75" fill="#6caf45" stroke="#4a7a30" stroke-width="0.45"/>
<rect x="260.75" y="225.6" width="4.35" height="11.05" fill="#552566" stroke="#341640" stroke-width="0.45"/>
<rect x="271.25" y="235.2" width="4.35" height="1.45" fill="#a8062f" stroke="#6a0a22" stroke-width="0.45"/>
<rect x="276" y="235" width="4.35" height="1.65" fill="#2a4f86" stroke="#1c3358" stroke-width="0.45"/>
<rect x="280.75" y="227.2" width="4.35" height="9.45" fill="#6caf45" stroke="#4a7a30" stroke-width="0.45"/>
<rect x="285.5" y="198.1" width="4.35" height="38.55" fill="#552566" stroke="#341640" stroke-width="0.45"/>
<rect x="296" y="236.65" width="4.35" height="1.4" fill="#a8062f" stroke="#6a0a22" stroke-width="0.45"/>
<rect x="300.75" y="236.15" width="4.35" height="0.5" fill="#2a4f86" stroke="#1c3358" stroke-width="0.45"/>
<rect x="305.5" y="227.2" width="4.35" height="9.45" fill="#6caf45" stroke="#4a7a30" stroke-width="0.45"/>
<rect x="310.25" y="189" width="4.35" height="47.65" fill="#552566" stroke="#341640" stroke-width="0.45"/>
<rect x="320.75" y="236.65" width="4.35" height="3.4" fill="#a8062f" stroke="#6a0a22" stroke-width="0.45"/>
<rect x="325.5" y="236.65" width="4.35" height="3.4" fill="#2a4f86" stroke="#1c3358" stroke-width="0.45"/>
<rect x="330.25" y="222" width="4.35" height="14.65" fill="#6caf45" stroke="#4a7a30" stroke-width="0.45"/>
<rect x="335" y="190" width="4.35" height="46.65" fill="#552566" stroke="#341640" stroke-width="0.45"/>
<path d="M220.8 157.55V241.25" stroke="#050505" stroke-width="1.3" fill="none"/>
<path d="M217.8 236.65H341.8" stroke="#050505" stroke-width="1.2" fill="none"/>
<path d="M217.8 160.45H220.8" stroke="#050505" stroke-width="1" fill="none"/>
<path d="M217.8 198.55H220.8" stroke="#050505" stroke-width="1" fill="none"/>
<path d="M223.93 236.65V234.05 M222.62 234.05H225.23" stroke="#1e1e1e" stroke-width="1.15" fill="none"/>
<path d="M228.68 235.6V235.35 M227.38 235.35H229.98" stroke="#1e1e1e" stroke-width="1.15" fill="none"/>
<path d="M233.43 220.9V220.5 M232.12 220.5H234.73" stroke="#1e1e1e" stroke-width="1.15" fill="none"/>
<path d="M238.18 212.9V212.65 M236.88 212.65H239.48" stroke="#1e1e1e" stroke-width="1.15" fill="none"/>
<path d="M248.68 239.45V239.85 M247.38 239.85H249.98" stroke="#1e1e1e" stroke-width="1.15" fill="none"/>
<path d="M253.43 236.65V233.35 M252.12 233.35H254.73" stroke="#1e1e1e" stroke-width="1.15" fill="none"/>
<path d="M258.18 220.9V217.7 M256.88 217.7H259.48" stroke="#1e1e1e" stroke-width="1.15" fill="none"/>
<path d="M262.93 225.6V225.35 M261.62 225.35H264.23" stroke="#1e1e1e" stroke-width="1.15" fill="none"/>
<path d="M273.43 235.2V234.95 M272.12 234.95H274.73" stroke="#1e1e1e" stroke-width="1.15" fill="none"/>
<path d="M278.18 235V234.75 M276.88 234.75H279.48" stroke="#1e1e1e" stroke-width="1.15" fill="none"/>
<path d="M282.93 227.2V224.9 M281.62 224.9H284.23" stroke="#1e1e1e" stroke-width="1.15" fill="none"/>
<path d="M287.68 198.1V197.85 M286.38 197.85H288.98" stroke="#1e1e1e" stroke-width="1.15" fill="none"/>
<path d="M298.18 238.05V238.45 M296.88 238.45H299.48" stroke="#1e1e1e" stroke-width="1.15" fill="none"/>
<path d="M302.93 236.15V235.65 M301.62 235.65H304.23" stroke="#1e1e1e" stroke-width="1.15" fill="none"/>
<path d="M307.68 227.2V226.95 M306.38 226.95H308.98" stroke="#1e1e1e" stroke-width="1.15" fill="none"/>
<path d="M312.43 189V188.75 M311.12 188.75H313.73" stroke="#1e1e1e" stroke-width="1.15" fill="none"/>
<path d="M322.93 240.05V240.45 M321.62 240.45H324.23" stroke="#1e1e1e" stroke-width="1.15" fill="none"/>
<path d="M327.68 240.05V240.45 M326.38 240.45H328.98" stroke="#1e1e1e" stroke-width="1.15" fill="none"/>
<path d="M332.43 222V221.75 M331.12 221.75H333.73" stroke="#1e1e1e" stroke-width="1.15" fill="none"/>
<path d="M337.18 190V189.75 M335.88 189.75H338.48" stroke="#1e1e1e" stroke-width="1.15" fill="none"/>
<text x="231.05" y="250.35" font-size="8" text-anchor="middle" fill="#2a2a2a" textLength="9.5" lengthAdjust="spacingAndGlyphs" stroke="#2a2a2a" stroke-width="0.14">3h</text>
<text x="255.8" y="250.35" font-size="8" text-anchor="middle" fill="#2a2a2a" textLength="9.5" lengthAdjust="spacingAndGlyphs" stroke="#2a2a2a" stroke-width="0.14">6h</text>
<text x="280.55" y="250.35" font-size="8" text-anchor="middle" fill="#2a2a2a" textLength="13.3" lengthAdjust="spacingAndGlyphs" stroke="#2a2a2a" stroke-width="0.14">15h</text>
<text x="305.3" y="250.35" font-size="8" text-anchor="middle" fill="#2a2a2a" textLength="13.3" lengthAdjust="spacingAndGlyphs" stroke="#2a2a2a" stroke-width="0.14">24h</text>
<text x="330.05" y="250.35" font-size="8" text-anchor="middle" fill="#2a2a2a" textLength="13.3" lengthAdjust="spacingAndGlyphs" stroke="#2a2a2a" stroke-width="0.14">48h</text>
<path d="M224.7 207.5H238.9" stroke="#222" stroke-width="1" fill="none"/>
<circle cx="228.5" cy="204.3" r="1.05" fill="#222"/>
<circle cx="231.8" cy="204.3" r="1.05" fill="#222"/>
<circle cx="235.1" cy="204.3" r="1.05" fill="#222"/>
<path d="M224.3 218.5H231.1" stroke="#222" stroke-width="1" fill="none"/>
<circle cx="226.05" cy="214.5" r="1.05" fill="#222"/>
<circle cx="229.35" cy="214.5" r="1.05" fill="#222"/>
<path d="M323.1 184.5H337.7" stroke="#222" stroke-width="1" fill="none"/>
<circle cx="327.1" cy="180" r="1.05" fill="#222"/>
<circle cx="330.4" cy="180" r="1.05" fill="#222"/>
<circle cx="333.7" cy="180" r="1.05" fill="#222"/>
<path d="M323.1 216.5H332.4" stroke="#222" stroke-width="1" fill="none"/>
<circle cx="326.1" cy="212.3" r="1.05" fill="#222"/>
<circle cx="329.4" cy="212.3" r="1.05" fill="#222"/>
</g>
<g>
<text x="437.8" y="142.95" font-size="10.1" text-anchor="start" fill="#2a2a2a" textLength="29.6" lengthAdjust="spacingAndGlyphs" stroke="#2a2a2a" stroke-width="0.12">PDX#6</text>
<text transform="translate(357.15 196.45) rotate(-90)" font-size="8.4" text-anchor="middle" fill="#2a2a2a" stroke="#2a2a2a" stroke-width="0.06" textLength="51.3" lengthAdjust="spacingAndGlyphs">Specific cell death</text>
<text transform="translate(366.8 197.25) rotate(-90)" font-size="8.3" text-anchor="middle" fill="#2a2a2a" stroke="#2a2a2a" stroke-width="0.08" textLength="29.0" lengthAdjust="spacingAndGlyphs">(FSC/SSC)</text>
<text x="386.6" y="162.95" font-size="8.3" text-anchor="end" fill="#2a2a2a" textLength="12.4" lengthAdjust="spacingAndGlyphs" stroke="#2a2a2a" stroke-width="0.12">100</text>
<text x="386.6" y="201.05" font-size="8.3" text-anchor="end" fill="#2a2a2a" textLength="8.6" lengthAdjust="spacingAndGlyphs" stroke="#2a2a2a" stroke-width="0.12">50</text>
<text x="386.6" y="239.25" font-size="8.3" text-anchor="end" fill="#2a2a2a" textLength="4.4" lengthAdjust="spacingAndGlyphs" stroke="#2a2a2a" stroke-width="0.12">0</text>
<text x="360.2" y="162.95" font-size="8.3" text-anchor="start" fill="#2a2a2a" textLength="11.4" lengthAdjust="spacingAndGlyphs" stroke="#2a2a2a" stroke-width="0.12">[%]</text>
<rect x="395.6" y="150" width="9.2" height="3.4" fill="#a8062f"/>
<text x="408.3" y="153.6" font-size="7.1" text-anchor="start" fill="#2a2a2a" textLength="10.3" lengthAdjust="spacingAndGlyphs" stroke="#2a2a2a" stroke-width="0.12">ctrl</text>
<rect x="395.6" y="158.95" width="9.2" height="3.4" fill="#2a4f86"/>
<text x="408.3" y="162.55" font-size="7.1" text-anchor="start" fill="#2a2a2a" textLength="20.7" lengthAdjust="spacingAndGlyphs" stroke="#2a2a2a" stroke-width="0.12">10 nM</text>
<rect x="395.6" y="167.9" width="9.2" height="3.4" fill="#6caf45"/>
<text x="408.3" y="171.5" font-size="7.1" text-anchor="start" fill="#2a2a2a" textLength="24.9" lengthAdjust="spacingAndGlyphs" stroke="#2a2a2a" stroke-width="0.12">100 nM</text>
<rect x="395.6" y="176.85" width="9.2" height="3.4" fill="#552566"/>
<text x="408.3" y="180.45" font-size="7.1" text-anchor="start" fill="#2a2a2a" textLength="25.1" lengthAdjust="spacingAndGlyphs" stroke="#2a2a2a" stroke-width="0.12">300 nM</text>
<rect x="398.3" y="231.9" width="4.35" height="4.75" fill="#2a4f86" stroke="#1c3358" stroke-width="0.45"/>
<rect x="403.05" y="217.8" width="4.35" height="18.85" fill="#6caf45" stroke="#4a7a30" stroke-width="0.45"/>
<rect x="407.8" y="194.3" width="4.35" height="42.35" fill="#552566" stroke="#341640" stroke-width="0.45"/>
<rect x="418.3" y="233.1" width="4.35" height="3.55" fill="#a8062f" stroke="#6a0a22" stroke-width="0.45"/>
<rect x="423.05" y="232.4" width="4.35" height="4.25" fill="#2a4f86" stroke="#1c3358" stroke-width="0.45"/>
<rect x="427.8" y="216.4" width="4.35" height="20.25" fill="#6caf45" stroke="#4a7a30" stroke-width="0.45"/>
<rect x="432.55" y="189.8" width="4.35" height="46.85" fill="#552566" stroke="#341640" stroke-width="0.45"/>
<rect x="443.05" y="236.65" width="4.35" height="2.9" fill="#a8062f" stroke="#6a0a22" stroke-width="0.45"/>
<rect x="447.8" y="236.65" width="4.35" height="2.9" fill="#2a4f86" stroke="#1c3358" stroke-width="0.45"/>
<rect x="452.55" y="217.5" width="4.35" height="19.15" fill="#6caf45" stroke="#4a7a30" stroke-width="0.45"/>
<rect x="457.3" y="189.4" width="4.35" height="47.25" fill="#552566" stroke="#341640" stroke-width="0.45"/>
<rect x="467.8" y="236.65" width="4.35" height="2.9" fill="#a8062f" stroke="#6a0a22" stroke-width="0.45"/>
<rect x="477.3" y="212.3" width="4.35" height="24.35" fill="#6caf45" stroke="#4a7a30" stroke-width="0.45"/>
<rect x="482.05" y="180.7" width="4.35" height="55.95" fill="#552566" stroke="#341640" stroke-width="0.45"/>
<rect x="492.55" y="234.1" width="4.35" height="2.55" fill="#a8062f" stroke="#6a0a22" stroke-width="0.45"/>
<rect x="497.3" y="231.4" width="4.35" height="5.25" fill="#2a4f86" stroke="#1c3358" stroke-width="0.45"/>
<rect x="502.05" y="198.4" width="4.35" height="38.25" fill="#6caf45" stroke="#4a7a30" stroke-width="0.45"/>
<rect x="506.8" y="179" width="4.35" height="57.65" fill="#552566" stroke="#341640" stroke-width="0.45"/>
<path d="M392.6 157.55V241.25" stroke="#050505" stroke-width="1.3" fill="none"/>
<path d="M389.6 236.65H513.6" stroke="#050505" stroke-width="1.2" fill="none"/>
<path d="M389.6 160.45H392.6" stroke="#050505" stroke-width="1" fill="none"/>
<path d="M389.6 198.55H392.6" stroke="#050505" stroke-width="1" fill="none"/>
<path d="M400.48 231.9V230.7 M399.18 230.7H401.78" stroke="#1e1e1e" stroke-width="1.15" fill="none"/>
<path d="M405.23 217.8V217.55 M403.93 217.55H406.53" stroke="#1e1e1e" stroke-width="1.15" fill="none"/>
<path d="M409.98 194.3V191.9 M408.68 191.9H411.28" stroke="#1e1e1e" stroke-width="1.15" fill="none"/>
<path d="M420.48 233.1V232 M419.18 232H421.78" stroke="#1e1e1e" stroke-width="1.15" fill="none"/>
<path d="M425.23 232.4V232.15 M423.93 232.15H426.53" stroke="#1e1e1e" stroke-width="1.15" fill="none"/>
<path d="M429.98 216.4V216.15 M428.68 216.15H431.28" stroke="#1e1e1e" stroke-width="1.15" fill="none"/>
<path d="M434.73 189.8V188.4 M433.43 188.4H436.03" stroke="#1e1e1e" stroke-width="1.15" fill="none"/>
<path d="M445.23 239.55V239.95 M443.93 239.95H446.53" stroke="#1e1e1e" stroke-width="1.15" fill="none"/>
<path d="M449.98 239.55V239.95 M448.68 239.95H451.28" stroke="#1e1e1e" stroke-width="1.15" fill="none"/>
<path d="M454.73 217.5V215 M453.43 215H456.03" stroke="#1e1e1e" stroke-width="1.15" fill="none"/>
<path d="M459.48 189.4V188.4 M458.18 188.4H460.78" stroke="#1e1e1e" stroke-width="1.15" fill="none"/>
<path d="M469.98 239.55V239.95 M468.68 239.95H471.28" stroke="#1e1e1e" stroke-width="1.15" fill="none"/>
<path d="M474.73 236.65V241.05 M473.43 241.05H476.03" stroke="#1e1e1e" stroke-width="1.15" fill="none"/>
<path d="M479.48 212.3V209.2 M478.18 209.2H480.78" stroke="#1e1e1e" stroke-width="1.15" fill="none"/>
<path d="M484.23 180.7V180.45 M482.93 180.45H485.53" stroke="#1e1e1e" stroke-width="1.15" fill="none"/>
<path d="M494.73 234.1V230 M493.43 230H496.03" stroke="#1e1e1e" stroke-width="1.15" fill="none"/>
<path d="M499.48 231.4V231.15 M498.18 231.15H500.78" stroke="#1e1e1e" stroke-width="1.15" fill="none"/>
<path d="M504.23 198.4V198.15 M502.93 198.15H505.53" stroke="#1e1e1e" stroke-width="1.15" fill="none"/>
<path d="M508.98 179V178.75 M507.68 178.75H510.28" stroke="#1e1e1e" stroke-width="1.15" fill="none"/>
<text x="402.85" y="250.35" font-size="8" text-anchor="middle" fill="#2a2a2a" textLength="9.5" lengthAdjust="spacingAndGlyphs" stroke="#2a2a2a" stroke-width="0.14">3h</text>
<text x="427.6" y="250.35" font-size="8" text-anchor="middle" fill="#2a2a2a" textLength="9.5" lengthAdjust="spacingAndGlyphs" stroke="#2a2a2a" stroke-width="0.14">6h</text>
<text x="452.35" y="250.35" font-size="8" text-anchor="middle" fill="#2a2a2a" textLength="13.3" lengthAdjust="spacingAndGlyphs" stroke="#2a2a2a" stroke-width="0.14">15h</text>
<text x="477.1" y="250.35" font-size="8" text-anchor="middle" fill="#2a2a2a" textLength="13.3" lengthAdjust="spacingAndGlyphs" stroke="#2a2a2a" stroke-width="0.14">24h</text>
<text x="501.85" y="250.35" font-size="8" text-anchor="middle" fill="#2a2a2a" textLength="13.3" lengthAdjust="spacingAndGlyphs" stroke="#2a2a2a" stroke-width="0.14">48h</text>
<path d="M394.5 226.5H400.4" stroke="#222" stroke-width="1" fill="none"/>
<circle cx="397.45" cy="222.2" r="1.05" fill="#222"/>
<path d="M398 214.5H404.3" stroke="#222" stroke-width="1" fill="none"/>
<circle cx="399.5" cy="209.5" r="1.05" fill="#222"/>
<circle cx="402.8" cy="209.5" r="1.05" fill="#222"/>
<path d="M398.5 190.5H409.7" stroke="#222" stroke-width="1" fill="none"/>
<circle cx="400.8" cy="186.2" r="1.05" fill="#222"/>
<circle cx="404.1" cy="186.2" r="1.05" fill="#222"/>
<circle cx="407.4" cy="186.2" r="1.05" fill="#222"/>
<path d="M492.1 212.5H498.4" stroke="#222" stroke-width="1" fill="none"/>
<circle cx="495.25" cy="208.5" r="1.05" fill="#222"/>
<path d="M492.1 194.5H502.5" stroke="#222" stroke-width="1" fill="none"/>
<circle cx="495.65" cy="190.8" r="1.05" fill="#222"/>
<circle cx="498.95" cy="190.8" r="1.05" fill="#222"/>
<path d="M496.3 175.5H510.8" stroke="#222" stroke-width="1" fill="none"/>
<circle cx="500.25" cy="171.7" r="1.05" fill="#222"/>
<circle cx="503.55" cy="171.7" r="1.05" fill="#222"/>
<circle cx="506.85" cy="171.7" r="1.05" fill="#222"/>
</g>
<g>
<text x="94.2" y="269.95" font-size="10.1" text-anchor="start" fill="#2a2a2a" textLength="29.6" lengthAdjust="spacingAndGlyphs" stroke="#2a2a2a" stroke-width="0.12">PDX#7</text>
<text transform="translate(13.55 323.85) rotate(-90)" font-size="8.4" text-anchor="middle" fill="#2a2a2a" stroke="#2a2a2a" stroke-width="0.06" textLength="51.3" lengthAdjust="spacingAndGlyphs">Specific cell death</text>
<text transform="translate(23.2 324.65) rotate(-90)" font-size="8.3" text-anchor="middle" fill="#2a2a2a" stroke="#2a2a2a" stroke-width="0.08" textLength="29.0" lengthAdjust="spacingAndGlyphs">(FSC/SSC)</text>
<text x="43" y="290.35" font-size="8.3" text-anchor="end" fill="#2a2a2a" textLength="12.4" lengthAdjust="spacingAndGlyphs" stroke="#2a2a2a" stroke-width="0.12">100</text>
<text x="43" y="328.45" font-size="8.3" text-anchor="end" fill="#2a2a2a" textLength="8.6" lengthAdjust="spacingAndGlyphs" stroke="#2a2a2a" stroke-width="0.12">50</text>
<text x="43" y="366.65" font-size="8.3" text-anchor="end" fill="#2a2a2a" textLength="4.4" lengthAdjust="spacingAndGlyphs" stroke="#2a2a2a" stroke-width="0.12">0</text>
<text x="16.6" y="290.35" font-size="8.3" text-anchor="start" fill="#2a2a2a" textLength="11.4" lengthAdjust="spacingAndGlyphs" stroke="#2a2a2a" stroke-width="0.12">[%]</text>
<rect x="52" y="277.4" width="9.2" height="3.4" fill="#a8062f"/>
<text x="64.7" y="281" font-size="7.1" text-anchor="start" fill="#2a2a2a" textLength="10.3" lengthAdjust="spacingAndGlyphs" stroke="#2a2a2a" stroke-width="0.12">ctrl</text>
<rect x="52" y="286.35" width="9.2" height="3.4" fill="#2a4f86"/>
<text x="64.7" y="289.95" font-size="7.1" text-anchor="start" fill="#2a2a2a" textLength="20.7" lengthAdjust="spacingAndGlyphs" stroke="#2a2a2a" stroke-width="0.12">10 nM</text>
<rect x="52" y="295.3" width="9.2" height="3.4" fill="#6caf45"/>
<text x="64.7" y="298.9" font-size="7.1" text-anchor="start" fill="#2a2a2a" textLength="24.9" lengthAdjust="spacingAndGlyphs" stroke="#2a2a2a" stroke-width="0.12">100 nM</text>
<rect x="52" y="304.25" width="9.2" height="3.4" fill="#552566"/>
<text x="64.7" y="307.85" font-size="7.1" text-anchor="start" fill="#2a2a2a" textLength="25.1" lengthAdjust="spacingAndGlyphs" stroke="#2a2a2a" stroke-width="0.12">300 nM</text>
<rect x="54.7" y="359.6" width="4.35" height="4.45" fill="#2a4f86" stroke="#1c3358" stroke-width="0.45"/>
<rect x="59.45" y="359.1" width="4.35" height="4.95" fill="#6caf45" stroke="#4a7a30" stroke-width="0.45"/>
<rect x="64.2" y="350.6" width="4.35" height="13.45" fill="#552566" stroke="#341640" stroke-width="0.45"/>
<rect x="74.7" y="364.05" width="4.35" height="3.1" fill="#a8062f" stroke="#6a0a22" stroke-width="0.45"/>
<rect x="79.45" y="357.5" width="4.35" height="6.55" fill="#2a4f86" stroke="#1c3358" stroke-width="0.45"/>
<rect x="84.2" y="364.05" width="4.35" height="3.1" fill="#6caf45" stroke="#4a7a30" stroke-width="0.45"/>
<rect x="88.95" y="361.9" width="4.35" height="2.15" fill="#552566" stroke="#341640" stroke-width="0.45"/>
<rect x="99.45" y="355.9" width="4.35" height="8.15" fill="#a8062f" stroke="#6a0a22" stroke-width="0.45"/>
<rect x="104.2" y="359.2" width="4.35" height="4.85" fill="#2a4f86" stroke="#1c3358" stroke-width="0.45"/>
<rect x="108.95" y="354.8" width="4.35" height="9.25" fill="#6caf45" stroke="#4a7a30" stroke-width="0.45"/>
<rect x="113.7" y="347.1" width="4.35" height="16.95" fill="#552566" stroke="#341640" stroke-width="0.45"/>
<rect x="124.2" y="351.1" width="4.35" height="12.95" fill="#a8062f" stroke="#6a0a22" stroke-width="0.45"/>
<rect x="128.95" y="351.6" width="4.35" height="12.45" fill="#2a4f86" stroke="#1c3358" stroke-width="0.45"/>
<rect x="133.7" y="344.5" width="4.35" height="19.55" fill="#6caf45" stroke="#4a7a30" stroke-width="0.45"/>
<rect x="138.45" y="333.1" width="4.35" height="30.95" fill="#552566" stroke="#341640" stroke-width="0.45"/>
<rect x="148.95" y="341.2" width="4.35" height="22.85" fill="#a8062f" stroke="#6a0a22" stroke-width="0.45"/>
<rect x="153.7" y="346.5" width="4.35" height="17.55" fill="#2a4f86" stroke="#1c3358" stroke-width="0.45"/>
<rect x="158.45" y="324" width="4.35" height="40.05" fill="#6caf45" stroke="#4a7a30" stroke-width="0.45"/>
<rect x="163.2" y="296.1" width="4.35" height="67.95" fill="#552566" stroke="#341640" stroke-width="0.45"/>
<path d="M49 284.95V368.65" stroke="#050505" stroke-width="1.3" fill="none"/>
<path d="M46 364.05H170" stroke="#050505" stroke-width="1.2" fill="none"/>
<path d="M46 287.85H49" stroke="#050505" stroke-width="1" fill="none"/>
<path d="M46 325.95H49" stroke="#050505" stroke-width="1" fill="none"/>
<path d="M52.12 364.05V355.25 M50.83 355.25H53.42" stroke="#1e1e1e" stroke-width="1.15" fill="none"/>
<path d="M56.88 359.6V359.35 M55.58 359.35H58.17" stroke="#1e1e1e" stroke-width="1.15" fill="none"/>
<path d="M61.62 359.1V358.85 M60.33 358.85H62.92" stroke="#1e1e1e" stroke-width="1.15" fill="none"/>
<path d="M66.38 350.6V345 M65.08 345H67.67" stroke="#1e1e1e" stroke-width="1.15" fill="none"/>
<path d="M76.88 367.15V367.55 M75.58 367.55H78.17" stroke="#1e1e1e" stroke-width="1.15" fill="none"/>
<path d="M81.62 357.5V350.6 M80.33 350.6H82.92" stroke="#1e1e1e" stroke-width="1.15" fill="none"/>
<path d="M86.38 367.15V367.55 M85.08 367.55H87.67" stroke="#1e1e1e" stroke-width="1.15" fill="none"/>
<path d="M91.12 361.9V361.2 M89.83 361.2H92.42" stroke="#1e1e1e" stroke-width="1.15" fill="none"/>
<path d="M101.62 355.9V355.65 M100.33 355.65H102.92" stroke="#1e1e1e" stroke-width="1.15" fill="none"/>
<path d="M106.38 359.2V357.6 M105.08 357.6H107.67" stroke="#1e1e1e" stroke-width="1.15" fill="none"/>
<path d="M111.12 354.8V352.6 M109.83 352.6H112.42" stroke="#1e1e1e" stroke-width="1.15" fill="none"/>
<path d="M115.88 347.1V344.9 M114.58 344.9H117.17" stroke="#1e1e1e" stroke-width="1.15" fill="none"/>
<path d="M126.38 351.1V350.85 M125.08 350.85H127.67" stroke="#1e1e1e" stroke-width="1.15" fill="none"/>
<path d="M131.12 351.6V351.35 M129.82 351.35H132.43" stroke="#1e1e1e" stroke-width="1.15" fill="none"/>
<path d="M135.88 344.5V334.4 M134.57 334.4H137.18" stroke="#1e1e1e" stroke-width="1.15" fill="none"/>
<path d="M140.62 333.1V332.85 M139.32 332.85H141.93" stroke="#1e1e1e" stroke-width="1.15" fill="none"/>
<path d="M151.12 341.2V340.95 M149.82 340.95H152.43" stroke="#1e1e1e" stroke-width="1.15" fill="none"/>
<path d="M155.88 346.5V343.8 M154.57 343.8H157.18" stroke="#1e1e1e" stroke-width="1.15" fill="none"/>
<path d="M160.62 324V322.5 M159.32 322.5H161.93" stroke="#1e1e1e" stroke-width="1.15" fill="none"/>
<path d="M165.38 296.1V295.85 M164.07 295.85H166.68" stroke="#1e1e1e" stroke-width="1.15" fill="none"/>
<text x="59.25" y="377.75" font-size="8" text-anchor="middle" fill="#2a2a2a" textLength="9.5" lengthAdjust="spacingAndGlyphs" stroke="#2a2a2a" stroke-width="0.14">3h</text>
<text x="84" y="377.75" font-size="8" text-anchor="middle" fill="#2a2a2a" textLength="9.5" lengthAdjust="spacingAndGlyphs" stroke="#2a2a2a" stroke-width="0.14">6h</text>
<text x="108.75" y="377.75" font-size="8" text-anchor="middle" fill="#2a2a2a" textLength="13.3" lengthAdjust="spacingAndGlyphs" stroke="#2a2a2a" stroke-width="0.14">15h</text>
<text x="133.5" y="377.75" font-size="8" text-anchor="middle" fill="#2a2a2a" textLength="13.3" lengthAdjust="spacingAndGlyphs" stroke="#2a2a2a" stroke-width="0.14">24h</text>
<text x="158.25" y="377.75" font-size="8" text-anchor="middle" fill="#2a2a2a" textLength="13.3" lengthAdjust="spacingAndGlyphs" stroke="#2a2a2a" stroke-width="0.14">48h</text>
<path d="M125 326.5H139.8" stroke="#222" stroke-width="1" fill="none"/>
<circle cx="129.1" cy="322.5" r="1.05" fill="#222"/>
<circle cx="132.4" cy="322.5" r="1.05" fill="#222"/>
<circle cx="135.7" cy="322.5" r="1.05" fill="#222"/>
<path d="M148.7 316.5H159.5" stroke="#222" stroke-width="1" fill="none"/>
<circle cx="149.15" cy="312.8" r="1.05" fill="#222"/>
<circle cx="152.45" cy="312.8" r="1.05" fill="#222"/>
<circle cx="155.75" cy="312.8" r="1.05" fill="#222"/>
<circle cx="159.05" cy="312.8" r="1.05" fill="#222"/>
<path d="M150.7 293.5H165.3" stroke="#222" stroke-width="1" fill="none"/>
<circle cx="153.05" cy="289.5" r="1.05" fill="#222"/>
<circle cx="156.35" cy="289.5" r="1.05" fill="#222"/>
<circle cx="159.65" cy="289.5" r="1.05" fill="#222"/>
<circle cx="162.95" cy="289.5" r="1.05" fill="#222"/>
</g>
<g>
<text x="266" y="269.95" font-size="10.1" text-anchor="start" fill="#2a2a2a" textLength="29.6" lengthAdjust="spacingAndGlyphs" stroke="#2a2a2a" stroke-width="0.12">PDX#8</text>
<text transform="translate(185.35 323.85) rotate(-90)" font-size="8.4" text-anchor="middle" fill="#2a2a2a" stroke="#2a2a2a" stroke-width="0.06" textLength="51.3" lengthAdjust="spacingAndGlyphs">Specific cell death</text>
<text transform="translate(195 324.65) rotate(-90)" font-size="8.3" text-anchor="middle" fill="#2a2a2a" stroke="#2a2a2a" stroke-width="0.08" textLength="29.0" lengthAdjust="spacingAndGlyphs">(FSC/SSC)</text>
<text x="214.8" y="290.35" font-size="8.3" text-anchor="end" fill="#2a2a2a" textLength="12.4" lengthAdjust="spacingAndGlyphs" stroke="#2a2a2a" stroke-width="0.12">100</text>
<text x="214.8" y="328.45" font-size="8.3" text-anchor="end" fill="#2a2a2a" textLength="8.6" lengthAdjust="spacingAndGlyphs" stroke="#2a2a2a" stroke-width="0.12">50</text>
<text x="214.8" y="366.65" font-size="8.3" text-anchor="end" fill="#2a2a2a" textLength="4.4" lengthAdjust="spacingAndGlyphs" stroke="#2a2a2a" stroke-width="0.12">0</text>
<text x="188.4" y="290.35" font-size="8.3" text-anchor="start" fill="#2a2a2a" textLength="11.4" lengthAdjust="spacingAndGlyphs" stroke="#2a2a2a" stroke-width="0.12">[%]</text>
<rect x="223.8" y="277.4" width="9.2" height="3.4" fill="#a8062f"/>
<text x="236.5" y="281" font-size="7.1" text-anchor="start" fill="#2a2a2a" textLength="10.3" lengthAdjust="spacingAndGlyphs" stroke="#2a2a2a" stroke-width="0.12">ctrl</text>
<rect x="223.8" y="286.35" width="9.2" height="3.4" fill="#2a4f86"/>
<text x="236.5" y="289.95" font-size="7.1" text-anchor="start" fill="#2a2a2a" textLength="20.7" lengthAdjust="spacingAndGlyphs" stroke="#2a2a2a" stroke-width="0.12">10 nM</text>
<rect x="223.8" y="295.3" width="9.2" height="3.4" fill="#6caf45"/>
<text x="236.5" y="298.9" font-size="7.1" text-anchor="start" fill="#2a2a2a" textLength="24.9" lengthAdjust="spacingAndGlyphs" stroke="#2a2a2a" stroke-width="0.12">100 nM</text>
<rect x="223.8" y="304.25" width="9.2" height="3.4" fill="#552566"/>
<text x="236.5" y="307.85" font-size="7.1" text-anchor="start" fill="#2a2a2a" textLength="25.1" lengthAdjust="spacingAndGlyphs" stroke="#2a2a2a" stroke-width="0.12">300 nM</text>
<rect x="226.5" y="355.5" width="4.35" height="8.55" fill="#2a4f86" stroke="#1c3358" stroke-width="0.45"/>
<rect x="231.25" y="348.2" width="4.35" height="15.85" fill="#6caf45" stroke="#4a7a30" stroke-width="0.45"/>
<rect x="236" y="322.9" width="4.35" height="41.15" fill="#552566" stroke="#341640" stroke-width="0.45"/>
<rect x="246.5" y="364.05" width="4.35" height="0.5" fill="#a8062f" stroke="#6a0a22" stroke-width="0.45"/>
<rect x="251.25" y="356.2" width="4.35" height="7.85" fill="#2a4f86" stroke="#1c3358" stroke-width="0.45"/>
<rect x="256" y="358.9" width="4.35" height="5.15" fill="#6caf45" stroke="#4a7a30" stroke-width="0.45"/>
<rect x="260.75" y="323.7" width="4.35" height="40.35" fill="#552566" stroke="#341640" stroke-width="0.45"/>
<rect x="271.25" y="354.7" width="4.35" height="9.35" fill="#a8062f" stroke="#6a0a22" stroke-width="0.45"/>
<rect x="276" y="347.9" width="4.35" height="16.15" fill="#2a4f86" stroke="#1c3358" stroke-width="0.45"/>
<rect x="280.75" y="340.9" width="4.35" height="23.15" fill="#6caf45" stroke="#4a7a30" stroke-width="0.45"/>
<rect x="285.5" y="322.2" width="4.35" height="41.85" fill="#552566" stroke="#341640" stroke-width="0.45"/>
<rect x="296" y="360.2" width="4.35" height="3.85" fill="#a8062f" stroke="#6a0a22" stroke-width="0.45"/>
<rect x="300.75" y="345.9" width="4.35" height="18.15" fill="#2a4f86" stroke="#1c3358" stroke-width="0.45"/>
<rect x="305.5" y="340" width="4.35" height="24.05" fill="#6caf45" stroke="#4a7a30" stroke-width="0.45"/>
<rect x="310.25" y="299.1" width="4.35" height="64.95" fill="#552566" stroke="#341640" stroke-width="0.45"/>
<rect x="320.75" y="359.1" width="4.35" height="4.95" fill="#a8062f" stroke="#6a0a22" stroke-width="0.45"/>
<rect x="325.5" y="337.6" width="4.35" height="26.45" fill="#2a4f86" stroke="#1c3358" stroke-width="0.45"/>
<rect x="330.25" y="307.5" width="4.35" height="56.55" fill="#6caf45" stroke="#4a7a30" stroke-width="0.45"/>
<rect x="335" y="296" width="4.35" height="68.05" fill="#552566" stroke="#341640" stroke-width="0.45"/>
<path d="M220.8 284.95V368.65" stroke="#050505" stroke-width="1.3" fill="none"/>
<path d="M217.8 364.05H341.8" stroke="#050505" stroke-width="1.2" fill="none"/>
<path d="M217.8 287.85H220.8" stroke="#050505" stroke-width="1" fill="none"/>
<path d="M217.8 325.95H220.8" stroke="#050505" stroke-width="1" fill="none"/>
<path d="M228.68 355.5V355.25 M227.38 355.25H229.98" stroke="#1e1e1e" stroke-width="1.15" fill="none"/>
<path d="M233.43 348.2V347.95 M232.12 347.95H234.73" stroke="#1e1e1e" stroke-width="1.15" fill="none"/>
<path d="M238.18 322.9V321.7 M236.88 321.7H239.48" stroke="#1e1e1e" stroke-width="1.15" fill="none"/>
<path d="M253.43 356.2V355.95 M252.12 355.95H254.73" stroke="#1e1e1e" stroke-width="1.15" fill="none"/>
<path d="M258.18 358.9V358.65 M256.88 358.65H259.48" stroke="#1e1e1e" stroke-width="1.15" fill="none"/>
<path d="M262.93 323.7V323.45 M261.62 323.45H264.23" stroke="#1e1e1e" stroke-width="1.15" fill="none"/>
<path d="M273.43 354.7V354.45 M272.12 354.45H274.73" stroke="#1e1e1e" stroke-width="1.15" fill="none"/>
<path d="M278.18 347.9V347.65 M276.88 347.65H279.48" stroke="#1e1e1e" stroke-width="1.15" fill="none"/>
<path d="M282.93 340.9V340.65 M281.62 340.65H284.23" stroke="#1e1e1e" stroke-width="1.15" fill="none"/>
<path d="M287.68 322.2V317.8 M286.38 317.8H288.98" stroke="#1e1e1e" stroke-width="1.15" fill="none"/>
<path d="M298.18 360.2V359.95 M296.88 359.95H299.48" stroke="#1e1e1e" stroke-width="1.15" fill="none"/>
<path d="M302.93 345.9V345.65 M301.62 345.65H304.23" stroke="#1e1e1e" stroke-width="1.15" fill="none"/>
<path d="M307.68 340V339.75 M306.38 339.75H308.98" stroke="#1e1e1e" stroke-width="1.15" fill="none"/>
<path d="M312.43 299.1V293.2 M311.12 293.2H313.73" stroke="#1e1e1e" stroke-width="1.15" fill="none"/>
<path d="M322.93 359.1V358.85 M321.62 358.85H324.23" stroke="#1e1e1e" stroke-width="1.15" fill="none"/>
<path d="M327.68 337.6V337.35 M326.38 337.35H328.98" stroke="#1e1e1e" stroke-width="1.15" fill="none"/>
<path d="M332.43 307.5V307.25 M331.12 307.25H333.73" stroke="#1e1e1e" stroke-width="1.15" fill="none"/>
<path d="M337.18 296V295.75 M335.88 295.75H338.48" stroke="#1e1e1e" stroke-width="1.15" fill="none"/>
<text x="231.05" y="377.75" font-size="8" text-anchor="middle" fill="#2a2a2a" textLength="9.5" lengthAdjust="spacingAndGlyphs" stroke="#2a2a2a" stroke-width="0.14">3h</text>
<text x="255.8" y="377.75" font-size="8" text-anchor="middle" fill="#2a2a2a" textLength="9.5" lengthAdjust="spacingAndGlyphs" stroke="#2a2a2a" stroke-width="0.14">6h</text>
<text x="280.55" y="377.75" font-size="8" text-anchor="middle" fill="#2a2a2a" textLength="13.3" lengthAdjust="spacingAndGlyphs" stroke="#2a2a2a" stroke-width="0.14">15h</text>
<text x="305.3" y="377.75" font-size="8" text-anchor="middle" fill="#2a2a2a" textLength="13.3" lengthAdjust="spacingAndGlyphs" stroke="#2a2a2a" stroke-width="0.14">24h</text>
<text x="330.05" y="377.75" font-size="8" text-anchor="middle" fill="#2a2a2a" textLength="13.3" lengthAdjust="spacingAndGlyphs" stroke="#2a2a2a" stroke-width="0.14">48h</text>
<path d="M223.5 352.5H229" stroke="#222" stroke-width="1" fill="none"/>
<circle cx="226.25" cy="348" r="1.05" fill="#222"/>
<path d="M226.6 342.5H233.3" stroke="#222" stroke-width="1" fill="none"/>
<circle cx="228.3" cy="338.4" r="1.05" fill="#222"/>
<circle cx="231.6" cy="338.4" r="1.05" fill="#222"/>
<path d="M225.9 320.5H240.6" stroke="#222" stroke-width="1" fill="none"/>
<circle cx="229.95" cy="316.2" r="1.05" fill="#222"/>
<circle cx="233.25" cy="316.2" r="1.05" fill="#222"/>
<circle cx="236.55" cy="316.2" r="1.05" fill="#222"/>
<path d="M321 329.5H326.9" stroke="#222" stroke-width="1" fill="none"/>
<circle cx="322.3" cy="325.4" r="1.05" fill="#222"/>
<circle cx="325.6" cy="325.4" r="1.05" fill="#222"/>
<path d="M320.2 305.5H331.1" stroke="#222" stroke-width="1" fill="none"/>
<circle cx="322.35" cy="301.1" r="1.05" fill="#222"/>
<circle cx="325.65" cy="301.1" r="1.05" fill="#222"/>
<circle cx="328.95" cy="301.1" r="1.05" fill="#222"/>
<path d="M322.9 293.5H336.5" stroke="#222" stroke-width="1" fill="none"/>
<circle cx="324.75" cy="289.5" r="1.05" fill="#222"/>
<circle cx="328.05" cy="289.5" r="1.05" fill="#222"/>
<circle cx="331.35" cy="289.5" r="1.05" fill="#222"/>
<circle cx="334.65" cy="289.5" r="1.05" fill="#222"/>
</g>
<g>
<text x="437.8" y="269.95" font-size="10.1" text-anchor="start" fill="#2a2a2a" textLength="29.6" lengthAdjust="spacingAndGlyphs" stroke="#2a2a2a" stroke-width="0.12">PDX#9</text>
<text transform="translate(357.15 323.85) rotate(-90)" font-size="8.4" text-anchor="middle" fill="#2a2a2a" stroke="#2a2a2a" stroke-width="0.06" textLength="51.3" lengthAdjust="spacingAndGlyphs">Specific cell death</text>
<text transform="translate(366.8 324.65) rotate(-90)" font-size="8.3" text-anchor="middle" fill="#2a2a2a" stroke="#2a2a2a" stroke-width="0.08" textLength="29.0" lengthAdjust="spacingAndGlyphs">(FSC/SSC)</text>
<text x="386.6" y="290.35" font-size="8.3" text-anchor="end" fill="#2a2a2a" textLength="12.4" lengthAdjust="spacingAndGlyphs" stroke="#2a2a2a" stroke-width="0.12">100</text>
<text x="386.6" y="328.45" font-size="8.3" text-anchor="end" fill="#2a2a2a" textLength="8.6" lengthAdjust="spacingAndGlyphs" stroke="#2a2a2a" stroke-width="0.12">50</text>
<text x="386.6" y="366.65" font-size="8.3" text-anchor="end" fill="#2a2a2a" textLength="4.4" lengthAdjust="spacingAndGlyphs" stroke="#2a2a2a" stroke-width="0.12">0</text>
<text x="360.2" y="290.35" font-size="8.3" text-anchor="start" fill="#2a2a2a" textLength="11.4" lengthAdjust="spacingAndGlyphs" stroke="#2a2a2a" stroke-width="0.12">[%]</text>
<rect x="395.6" y="277.4" width="9.2" height="3.4" fill="#a8062f"/>
<text x="408.3" y="281" font-size="7.1" text-anchor="start" fill="#2a2a2a" textLength="10.3" lengthAdjust="spacingAndGlyphs" stroke="#2a2a2a" stroke-width="0.12">ctrl</text>
<rect x="395.6" y="286.35" width="9.2" height="3.4" fill="#2a4f86"/>
<text x="408.3" y="289.95" font-size="7.1" text-anchor="start" fill="#2a2a2a" textLength="20.7" lengthAdjust="spacingAndGlyphs" stroke="#2a2a2a" stroke-width="0.12">10 nM</text>
<rect x="395.6" y="295.3" width="9.2" height="3.4" fill="#6caf45"/>
<text x="408.3" y="298.9" font-size="7.1" text-anchor="start" fill="#2a2a2a" textLength="24.9" lengthAdjust="spacingAndGlyphs" stroke="#2a2a2a" stroke-width="0.12">100 nM</text>
<rect x="395.6" y="304.25" width="9.2" height="3.4" fill="#552566"/>
<text x="408.3" y="307.85" font-size="7.1" text-anchor="start" fill="#2a2a2a" textLength="25.1" lengthAdjust="spacingAndGlyphs" stroke="#2a2a2a" stroke-width="0.12">300 nM</text>
<rect x="398.3" y="364.05" width="4.35" height="0.5" fill="#2a4f86" stroke="#1c3358" stroke-width="0.45"/>
<rect x="403.05" y="361.7" width="4.35" height="2.35" fill="#6caf45" stroke="#4a7a30" stroke-width="0.45"/>
<rect x="407.8" y="360.9" width="4.35" height="3.15" fill="#552566" stroke="#341640" stroke-width="0.45"/>
<rect x="418.3" y="361.4" width="4.35" height="2.65" fill="#a8062f" stroke="#6a0a22" stroke-width="0.45"/>
<rect x="423.05" y="362.5" width="4.35" height="1.55" fill="#2a4f86" stroke="#1c3358" stroke-width="0.45"/>
<rect x="427.8" y="360.1" width="4.35" height="3.95" fill="#6caf45" stroke="#4a7a30" stroke-width="0.45"/>
<rect x="432.55" y="360.1" width="4.35" height="3.95" fill="#552566" stroke="#341640" stroke-width="0.45"/>
<rect x="443.05" y="354.5" width="4.35" height="9.55" fill="#a8062f" stroke="#6a0a22" stroke-width="0.45"/>
<rect x="447.8" y="353.8" width="4.35" height="10.25" fill="#2a4f86" stroke="#1c3358" stroke-width="0.45"/>
<rect x="452.55" y="337.5" width="4.35" height="26.55" fill="#6caf45" stroke="#4a7a30" stroke-width="0.45"/>
<rect x="457.3" y="328.2" width="4.35" height="35.85" fill="#552566" stroke="#341640" stroke-width="0.45"/>
<rect x="467.8" y="355.4" width="4.35" height="8.65" fill="#a8062f" stroke="#6a0a22" stroke-width="0.45"/>
<rect x="472.55" y="355.4" width="4.35" height="8.65" fill="#2a4f86" stroke="#1c3358" stroke-width="0.45"/>
<rect x="477.3" y="339.1" width="4.35" height="24.95" fill="#6caf45" stroke="#4a7a30" stroke-width="0.45"/>
<rect x="482.05" y="325.7" width="4.35" height="38.35" fill="#552566" stroke="#341640" stroke-width="0.45"/>
<rect x="492.55" y="349.8" width="4.35" height="14.25" fill="#a8062f" stroke="#6a0a22" stroke-width="0.45"/>
<rect x="497.3" y="346.3" width="4.35" height="17.75" fill="#2a4f86" stroke="#1c3358" stroke-width="0.45"/>
<rect x="502.05" y="302" width="4.35" height="62.05" fill="#6caf45" stroke="#4a7a30" stroke-width="0.45"/>
<rect x="506.8" y="293.3" width="4.35" height="70.75" fill="#552566" stroke="#341640" stroke-width="0.45"/>
<path d="M392.6 284.95V368.65" stroke="#050505" stroke-width="1.3" fill="none"/>
<path d="M389.6 364.05H513.6" stroke="#050505" stroke-width="1.2" fill="none"/>
<path d="M389.6 287.85H392.6" stroke="#050505" stroke-width="1" fill="none"/>
<path d="M389.6 325.95H392.6" stroke="#050505" stroke-width="1" fill="none"/>
<path d="M405.23 361.7V361.45 M403.93 361.45H406.53" stroke="#1e1e1e" stroke-width="1.15" fill="none"/>
<path d="M409.98 360.9V360.65 M408.68 360.65H411.28" stroke="#1e1e1e" stroke-width="1.15" fill="none"/>
<path d="M420.48 361.4V361.15 M419.18 361.15H421.78" stroke="#1e1e1e" stroke-width="1.15" fill="none"/>
<path d="M425.23 362.5V362.25 M423.93 362.25H426.53" stroke="#1e1e1e" stroke-width="1.15" fill="none"/>
<path d="M429.98 360.1V359.1 M428.68 359.1H431.28" stroke="#1e1e1e" stroke-width="1.15" fill="none"/>
<path d="M434.73 360.1V359.85 M433.43 359.85H436.03" stroke="#1e1e1e" stroke-width="1.15" fill="none"/>
<path d="M445.23 354.5V354.25 M443.93 354.25H446.53" stroke="#1e1e1e" stroke-width="1.15" fill="none"/>
<path d="M449.98 353.8V352.6 M448.68 352.6H451.28" stroke="#1e1e1e" stroke-width="1.15" fill="none"/>
<path d="M454.73 337.5V336.3 M453.43 336.3H456.03" stroke="#1e1e1e" stroke-width="1.15" fill="none"/>
<path d="M459.48 328.2V327 M458.18 327H460.78" stroke="#1e1e1e" stroke-width="1.15" fill="none"/>
<path d="M469.98 355.4V355.15 M468.68 355.15H471.28" stroke="#1e1e1e" stroke-width="1.15" fill="none"/>
<path d="M474.73 355.4V355.15 M473.43 355.15H476.03" stroke="#1e1e1e" stroke-width="1.15" fill="none"/>
<path d="M479.48 339.1V338.85 M478.18 338.85H480.78" stroke="#1e1e1e" stroke-width="1.15" fill="none"/>
<path d="M484.23 325.7V324.5 M482.93 324.5H485.53" stroke="#1e1e1e" stroke-width="1.15" fill="none"/>
<path d="M494.73 349.8V349.55 M493.43 349.55H496.03" stroke="#1e1e1e" stroke-width="1.15" fill="none"/>
<path d="M499.48 346.3V346.05 M498.18 346.05H500.78" stroke="#1e1e1e" stroke-width="1.15" fill="none"/>
<path d="M504.23 302V301.75 M502.93 301.75H505.53" stroke="#1e1e1e" stroke-width="1.15" fill="none"/>
<path d="M508.98 293.3V293.05 M507.68 293.05H510.28" stroke="#1e1e1e" stroke-width="1.15" fill="none"/>
<text x="402.85" y="377.75" font-size="8" text-anchor="middle" fill="#2a2a2a" textLength="9.5" lengthAdjust="spacingAndGlyphs" stroke="#2a2a2a" stroke-width="0.14">3h</text>
<text x="427.6" y="377.75" font-size="8" text-anchor="middle" fill="#2a2a2a" textLength="9.5" lengthAdjust="spacingAndGlyphs" stroke="#2a2a2a" stroke-width="0.14">6h</text>
<text x="452.35" y="377.75" font-size="8" text-anchor="middle" fill="#2a2a2a" textLength="13.3" lengthAdjust="spacingAndGlyphs" stroke="#2a2a2a" stroke-width="0.14">15h</text>
<text x="477.1" y="377.75" font-size="8" text-anchor="middle" fill="#2a2a2a" textLength="13.3" lengthAdjust="spacingAndGlyphs" stroke="#2a2a2a" stroke-width="0.14">24h</text>
<text x="501.85" y="377.75" font-size="8" text-anchor="middle" fill="#2a2a2a" textLength="13.3" lengthAdjust="spacingAndGlyphs" stroke="#2a2a2a" stroke-width="0.14">48h</text>
<path d="M443.1 333.5H453.1" stroke="#222" stroke-width="1" fill="none"/>
<circle cx="444.8" cy="328.8" r="1.05" fill="#222"/>
<circle cx="448.1" cy="328.8" r="1.05" fill="#222"/>
<circle cx="451.4" cy="328.8" r="1.05" fill="#222"/>
<path d="M446.1 321.5H460.5" stroke="#222" stroke-width="1" fill="none"/>
<circle cx="448.35" cy="317.2" r="1.05" fill="#222"/>
<circle cx="451.65" cy="317.2" r="1.05" fill="#222"/>
<circle cx="454.95" cy="317.2" r="1.05" fill="#222"/>
<circle cx="458.25" cy="317.2" r="1.05" fill="#222"/>
<path d="M492.4 296.5H503.8" stroke="#222" stroke-width="1" fill="none"/>
<circle cx="494.8" cy="292.6" r="1.05" fill="#222"/>
<circle cx="498.1" cy="292.6" r="1.05" fill="#222"/>
<circle cx="501.4" cy="292.6" r="1.05" fill="#222"/>
<path d="M495.3 287.5H509.8" stroke="#222" stroke-width="1" fill="none"/>
<circle cx="497.6" cy="283.3" r="1.05" fill="#222"/>
<circle cx="500.9" cy="283.3" r="1.05" fill="#222"/>
<circle cx="504.2" cy="283.3" r="1.05" fill="#222"/>
<circle cx="507.5" cy="283.3" r="1.05" fill="#222"/>
</g>
<rect x="0" y="0" width="520" height="1.3" fill="#000"/>
<rect x="0" y="0" width="1.2" height="387" fill="#000"/>
<rect x="518.8" y="0" width="1.2" height="387" fill="#000"/>
<rect x="0" y="385.3" width="520" height="1.7" fill="#000"/>
</svg>
</body></html>
